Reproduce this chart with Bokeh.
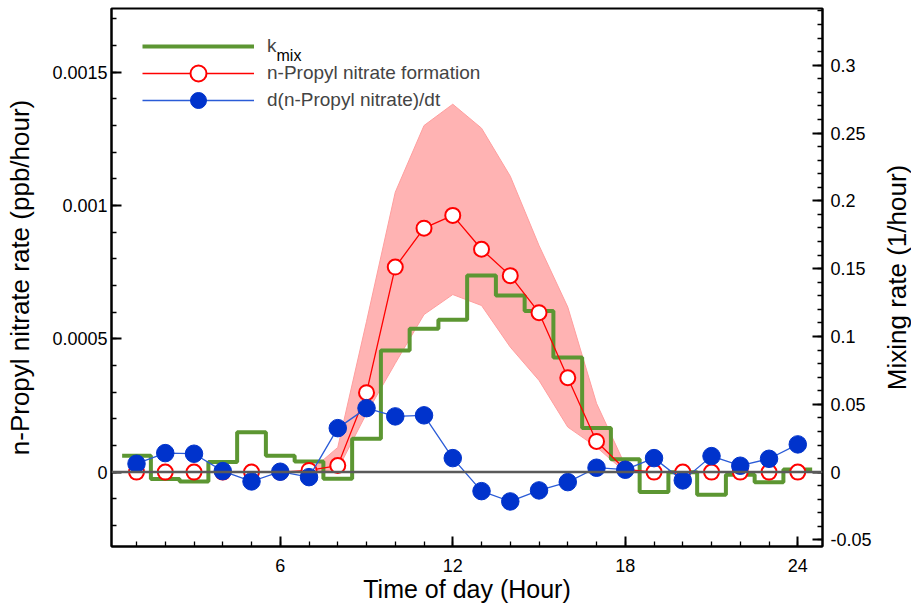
import math
from bokeh.plotting import figure
from bokeh.layouts import row
from bokeh.models import (Range1d, LinearAxis, FixedTicker, Span, Legend,
                          LegendItem, Label)
from bokeh.core.properties import value
from bokeh.embed import file_html
from bokeh.resources import INLINE

# ---------------- data ----------------
hours = list(range(1, 25))

# mixing rate (1/hour), right axis, hourly step values centred on each hour
kmix = [0.0121, -0.0050, -0.0069, 0.0074, 0.0295, 0.0121, 0.0079, -0.0049,
        0.0246, 0.0897, 0.1057, 0.1123, 0.1450, 0.1302, 0.1188, 0.0845,
        0.0326, 0.0096, -0.0147, 0.0000, -0.0167, -0.0019, -0.0074, 0.0020]

# n-Propyl nitrate formation (ppb/hour)
formation = [0.0, 0.0, 0.0, 0.0, 0.0, 0.0, 0.0000064, 0.0000244,
             0.000298, 0.000769, 0.000915, 0.000963, 0.000836, 0.000737,
             0.000598, 0.000354, 0.000115, 0.00001, 0.0, 0.0, 0.0, 0.0,
             0.0, 0.0]

# d(n-Propyl nitrate)/dt (ppb/hour)
dndt = [0.0000315, 0.0000713, 0.000069, 0.0000038, -0.0000349, 0.0000015,
        -0.0000188, 0.000165, 0.00024, 0.000209, 0.000213, 0.0000525,
        -0.0000713, -0.00011, -0.0000686, -0.0000375, 0.0000165, 0.000009,
        0.0000525, -0.0000311, 0.00006, 0.000024, 0.00005, 0.000104]

# uncertainty band of the formation rate
band_hours = [7, 8, 9, 10, 11, 12, 13, 14, 15, 16, 17, 18]
band_upper = [0.0, 0.0000926, 0.000565, 0.00105, 0.0013, 0.00138, 0.00129,
              0.00111, 0.00085, 0.000619, 0.000258, 0.000025]
band_lower = [0.0, 0.00001, 0.00022, 0.000408, 0.000591, 0.000666, 0.000625,
              0.000469, 0.000344, 0.000169, 0.0000938, 0.0]

x_ticks = [6, 12, 18, 24]
x_minor = list(range(0, 26))
left_ticks = [0, 0.0005, 0.001, 0.0015]
left_tick_labels = ["0", "0.0005", "0.001", "0.0015"]
left_minor = [i * 0.0001 for i in range(-2, 18)]
right_ticks = [-0.05, 0, 0.05, 0.1, 0.15, 0.2, 0.25, 0.3]
right_tick_labels = ["-0.05", "0", "0.05", "0.1", "0.15", "0.2", "0.25", "0.3"]
right_minor = [i * 0.01 for i in range(-5, 35)]

# step edges for the hourly mixing rate (centred on each hour)
step_x = [h - 0.5 for h in hours] + [hours[-1] + 0.5]
step_y = kmix + [kmix[-1]]

FONT = "Liberation Sans"

p = figure(width=881, height=606, output_backend="svg", toolbar_location=None,
           x_range=Range1d(0.13, 24.86), y_range=Range1d(-0.000279, 0.001739),
           min_border_left=111, min_border_right=59, min_border_top=8,
           min_border_bottom=60)
p.extra_y_ranges = {"mix": Range1d(-0.0548, 0.3418)}

p.grid.visible = False
p.outline_line_color = "black"
p.outline_line_width = 2
p.background_fill_color = "white"
p.border_fill_color = "white"

# band
p.varea(x=band_hours, y1=band_lower, y2=band_upper, fill_color="#ffb3b3")
p.line(x=band_hours, y=band_upper, line_color="#ff9e9e", line_width=1)
p.line(x=band_hours, y=band_lower, line_color="#ff9e9e", line_width=1)

# zero line
p.add_layout(Span(location=0, dimension="width", line_color="#5a5a5a",
                  line_width=2.5))

# mixing rate steps
g = p.step(x=step_x, y=step_y, mode="after", line_color="#5c9632",
           line_width=4, y_range_name="mix")

# formation
rl = p.line(x=hours, y=formation, line_color="#ff0000", line_width=1.3)
rc = p.scatter(x=hours, y=formation, size=15, fill_color="white",
               line_color="#ff0000", line_width=2)

# derivative
bl = p.line(x=hours, y=dndt, line_color="#2a5bd7", line_width=1.3)
bc = p.scatter(x=hours, y=dndt, size=17.5, fill_color="#0033cc",
               line_color="#0033cc", line_width=1)

# axes
right = LinearAxis(y_range_name="mix")
p.add_layout(right, "right")

xa = p.xaxis[0]
ya = p.yaxis[0]
xa.ticker = FixedTicker(ticks=x_ticks, minor_ticks=x_minor)
ya.ticker = FixedTicker(ticks=left_ticks, minor_ticks=left_minor)
right.ticker = FixedTicker(ticks=right_ticks, minor_ticks=right_minor)
ya.major_label_overrides = dict(zip(left_ticks, left_tick_labels))
right.major_label_overrides = dict(zip(right_ticks, right_tick_labels))

xa.axis_label = "Time of day (Hour)"
ya.axis_label = "n-Propyl nitrate rate (ppb/hour)"

for ax in (xa, ya, right):
    ax.axis_line_width = 2
    ax.axis_line_color = "black"
    ax.major_tick_in = 10
    ax.major_tick_out = 0
    ax.minor_tick_in = 5
    ax.minor_tick_out = 0
    ax.major_tick_line_width = 2
    ax.minor_tick_line_width = 1.3
    ax.major_label_text_font = FONT
    ax.major_label_text_font_size = "18px"
    ax.major_label_text_color = "black"
    ax.axis_label_text_font = FONT
    ax.axis_label_text_font_size = "26px"
    ax.axis_label_text_font_style = "normal"
    ax.axis_label_text_color = "black"

xa.axis_label_text_font_size = "25px"
xa.major_label_standoff = 12
xa.axis_label_standoff = 0
ya.major_label_standoff = 4
ya.axis_label_standoff = 14
right.major_label_standoff = 8

# legend: one single-item legend per row so the markers can be full size
legend_rows = [
    ("k", [g], 479),
    ("n-Propyl nitrate formation", [rl, rc], 452),
    ("d(n-Propyl nitrate)/dt", [bl, bc], 425),
]
for lab, rends, ypos in legend_rows:
    lg = Legend(items=[LegendItem(label=lab, renderers=rends)],
                location=(31, ypos), padding=0, margin=0, spacing=0,
                glyph_width=112, glyph_height=40, label_height=42,
                label_standoff=13, label_text_font=FONT,
                label_text_font_size="19px", border_line_color=None,
                background_fill_alpha=0)
    p.add_layout(lg)

sub = Label(x=165, y=491, x_units="screen", y_units="screen", text="mix",
            text_font=FONT, text_font_size="16px", text_baseline="alphabetic",
            text_align="left", text_color="black")
p.add_layout(sub)

# narrow strip carrying the right-hand axis title (reads bottom to top)
p2 = figure(width=30, height=606, output_backend="svg", toolbar_location=None,
            x_range=Range1d(0, 1), y_range=Range1d(0, 1),
            x_axis_type=None, y_axis_type=None, min_border=0)
p2.grid.visible = False
p2.outline_line_color = None
p2.background_fill_color = "white"
p2.border_fill_color = "white"
p2.text(x=[0.5], y=[0.5], text=["Mixing rate (1/hour)"], angle=math.pi / 2,
        text_align="center", text_baseline="middle",
        text_font=value(FONT), text_font_size="26px", text_color="black")

layout = row(p, p2, spacing=0)

open("out.html", "w").write(file_html(layout, INLINE))
